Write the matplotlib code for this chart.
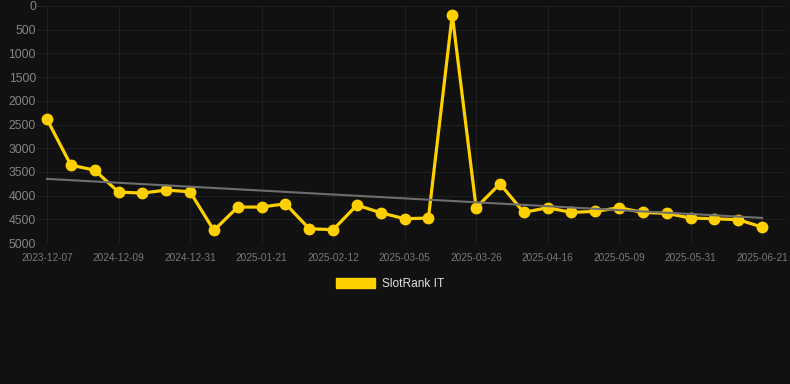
import numpy as np
import matplotlib
matplotlib.use("Agg")
import matplotlib.pyplot as plt
from matplotlib.patches import Patch

# ---- data ----
dates = ["2023-12-07", "2024-12-02", "2024-12-05", "2024-12-09", "2024-12-12",
         "2024-12-16", "2024-12-31", "2025-01-07", "2025-01-14", "2025-01-21",
         "2025-01-28", "2025-02-04", "2025-02-12", "2025-02-19", "2025-02-26",
         "2025-03-05", "2025-03-12", "2025-03-19", "2025-03-26", "2025-04-02",
         "2025-04-09", "2025-04-16", "2025-04-23", "2025-05-01", "2025-05-09",
         "2025-05-16", "2025-05-23", "2025-05-31", "2025-06-07", "2025-06-14",
         "2025-06-21"]
rank_it = [2390, 3357, 3463, 3926, 3947, 3884, 3919, 4734, 4242, 4242,
           4172, 4699, 4720, 4200, 4362, 4488, 4474, 183, 4256, 3751,
           4354, 4256, 4354, 4333, 4256, 4354, 4375, 4474, 4488, 4509,
           4664]
tick_labels = ["2023-12-07", "2024-12-09", "2024-12-31", "2025-01-21", "2025-02-12",
               "2025-03-05", "2025-03-26", "2025-04-16", "2025-05-09", "2025-05-31",
               "2025-06-21"]
y_ticks = [0, 500, 1000, 1500, 2000, 2500, 3000, 3500, 4000, 4500, 5000]
series_name = "SlotRank IT"

# ---- style ----
plt.rcParams["font.family"] = ["Liberation Sans", "DejaVu Sans"]
BG = "#111111"
YELLOW = "#FFD000"
GRID = "#1f1f1f"

fig = plt.figure(figsize=(7.9, 3.84), dpi=100, facecolor=BG)
ax = fig.add_axes([37/790, 1 - 243/384, (786-37)/790, 237/384], facecolor=BG)

x = np.arange(len(rank_it))
ax.plot(x, rank_it, color=YELLOW, lw=2.3, marker="o", ms=7.5,
        markerfacecolor=YELLOW, markeredgecolor=YELLOW, zorder=3,
        solid_joinstyle="miter")

coef = np.polyfit(x, rank_it, 1)
trend = np.polyval(coef, x)
ax.plot(x, trend, color="#6e6e6e", lw=1.5, zorder=4)

ax.set_xlim(-0.42, 31.0)
ax.set_ylim(5000, 0)
ax.set_yticks(y_ticks)
ax.set_yticklabels([str(v) for v in y_ticks])
tick_pos = [i for i in range(0, len(dates), 3)]
ax.set_xticks(tick_pos)
ax.set_xticklabels(tick_labels)

ax.grid(True, color=GRID, lw=0.8, zorder=0)
for s in ax.spines.values():
    s.set_visible(False)
ax.tick_params(axis="y", length=0, pad=0.8, labelsize=8.8, labelcolor="#858585")
ax.tick_params(axis="x", length=0, pad=7, labelsize=7.2, labelcolor="#7a7a7a")

handles = [Patch(facecolor=YELLOW, edgecolor=YELLOW)]
leg = fig.legend(handles, [series_name], loc="center", bbox_to_anchor=(390/790, 1 - 284/384),
                 frameon=False, fontsize=8.6, handlelength=3.3, handleheight=1.0,
                 handletextpad=0.55, labelcolor="#e0e0e0")

fig.savefig("out.png", dpi=100, facecolor=BG)
